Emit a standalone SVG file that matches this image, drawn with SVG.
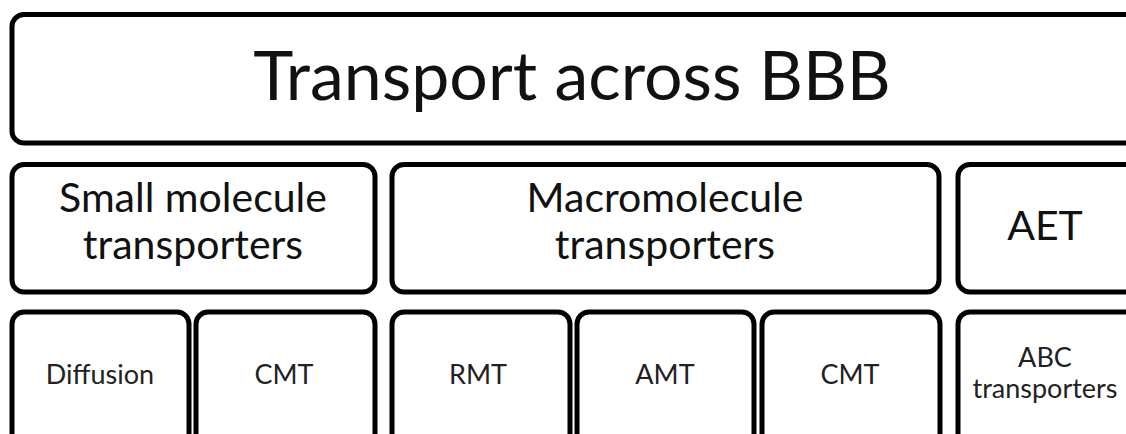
<svg xmlns="http://www.w3.org/2000/svg" width="1126" height="434" viewBox="0 0 1126 434">
<style>
.b{fill:#fff;stroke:#000;stroke-width:5}
.t{font-family:Lato,"Open Sans",sans-serif;fill:#111;text-anchor:middle}
.l{font-size:68px}
.m{font-size:41px}
.s{font-size:27px;fill:#222}
</style>
<g id="transport"><rect class="b" x="12" y="14.5" width="1125" height="128.5" rx="12"/><text class="t l" x="572" y="100">Transport across BBB</text></g>
<g id="small"><rect class="b" x="12" y="164.5" width="363" height="127.5" rx="12"/><text class="t m" x="193" y="212">Small molecule</text><text class="t m" x="193" y="259">transporters</text></g>
<g id="macro"><rect class="b" x="392" y="164.5" width="547" height="127.5" rx="12"/><text class="t m" x="665" y="212">Macromolecule</text><text class="t m" x="665" y="259">transporters</text></g>
<g id="aet"><rect class="b" x="958" y="164.5" width="200" height="127.5" rx="12"/><text class="t m" x="1045" y="240">AET</text></g>
<g id="diffusion"><rect class="b" x="12" y="312" width="177" height="140" rx="12"/><text class="t s" x="100" y="384">Diffusion</text></g>
<g id="cmt1"><rect class="b" x="196" y="312" width="179" height="140" rx="12"/><text class="t s" x="284" y="384">CMT</text></g>
<g id="rmt"><rect class="b" x="392" y="312" width="178" height="140" rx="12"/><text class="t s" x="478" y="384">RMT</text></g>
<g id="amt"><rect class="b" x="577" y="312" width="177" height="140" rx="12"/><text class="t s" x="665" y="384">AMT</text></g>
<g id="cmt2"><rect class="b" x="762" y="312" width="178" height="140" rx="12"/><text class="t s" x="850" y="384">CMT</text></g>
<g id="abc"><rect class="b" x="958" y="312" width="200" height="140" rx="12"/><text class="t s" x="1045" y="367">ABC</text><text class="t s" x="1045" y="398">transporters</text></g>
<g id="connectors"/>
</svg>
